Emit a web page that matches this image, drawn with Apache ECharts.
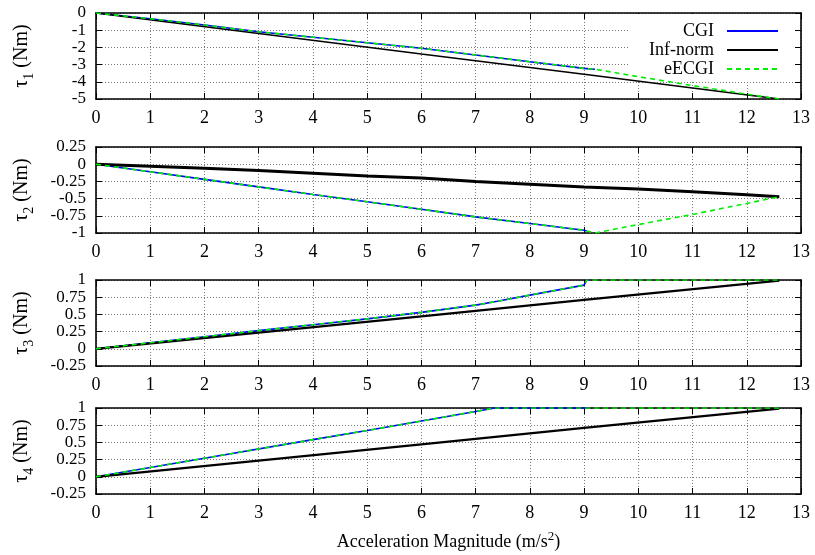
<!DOCTYPE html>
<html>
<head>
<meta charset="utf-8">
<script src="https://cdn.jsdelivr.net/npm/echarts@6/dist/echarts.min.js"></script>
<style>
  html, body { margin: 0; padding: 0; background: #fff; }
  #chart { width: 815px; height: 555px; }
</style>
</head>
<body>
<div id="chart"></div>
<script>
// ---- joint torques vs. acceleration magnitude ----

// τ1
const t1CgiX = [0, 1, 2, 3, 4, 5, 6, 7, 8, 9, 9.2];
const t1CgiY = [0, -0.33, -0.7, -1.09, -1.41, -1.73, -2.05, -2.44, -2.83, -3.22, -3.27];
const t1InfX = [0, 3, 6, 9, 12.6];
const t1InfY = [0, -1.19, -2.38, -3.56, -5];
const t1EcgX = [0, 1, 2, 3, 4, 5, 6, 7, 8, 9, 9.2, 10, 11, 12, 12.6];
const t1EcgY = [0, -0.33, -0.7, -1.09, -1.41, -1.73, -2.05, -2.44, -2.83, -3.22, -3.27, -3.7, -4.22, -4.72, -5];

// τ2
const t2CgiX = [0, 1, 2, 3, 4, 5, 6, 7, 8, 9, 9.05];
const t2CgiY = [0, -0.11, -0.22, -0.33, -0.44, -0.546, -0.655, -0.766, -0.863, -0.96, -0.97];
const t2InfX = [0, 1, 2, 3, 4, 5, 6, 7, 8, 9, 10, 11, 12, 12.6];
const t2InfY = [0, -0.03, -0.06, -0.09, -0.13, -0.17, -0.2, -0.25, -0.29, -0.33, -0.36, -0.4, -0.445, -0.473];
const t2EcgX = [0, 1, 2, 3, 4, 5, 6, 7, 8, 9, 9.05, 9.2, 10, 11, 12, 12.6];
const t2EcgY = [0, -0.11, -0.22, -0.33, -0.44, -0.546, -0.655, -0.766, -0.863, -0.96, -0.97, -1, -0.877, -0.73, -0.57, -0.473];

// τ3
const t3CgiX = [0, 1, 2, 3, 4, 5, 6, 7, 7.4, 8, 9, 9.05, 9.1];
const t3CgiY = [0, 0.087, 0.175, 0.264, 0.35, 0.435, 0.53, 0.635, 0.69, 0.78, 0.925, 1, 1];
const t3InfX = [0, 3, 6, 9, 12.6];
const t3InfY = [0, 0.235, 0.47, 0.71, 0.99];
const t3EcgX = [0, 1, 2, 3, 4, 5, 6, 7, 7.4, 8, 9, 9.05, 12.6];
const t3EcgY = [0, 0.087, 0.175, 0.264, 0.35, 0.435, 0.53, 0.635, 0.69, 0.78, 0.925, 1, 1];

// τ4
const t4CgiX = [0, 2, 4, 5, 6, 7, 7.35, 9.1];
const t4CgiY = [0, 0.27, 0.54, 0.674, 0.81, 0.95, 1, 1];
const t4InfX = [0, 3, 6, 9, 12.6];
const t4InfY = [0, 0.235, 0.47, 0.71, 0.99];
const t4EcgX = [0, 2, 4, 5, 6, 7, 7.35, 12.6];
const t4EcgY = [0, 0.27, 0.54, 0.674, 0.81, 0.95, 1, 1];

const seriesNames = ['CGI', 'Inf-norm', 'eECGI'];
const yNames = ['1', '2', '3', '4'];
const yMins = [-5, -1, -0.25, -0.25];
const yMaxs = [0, 0.25, 1, 1];
const yIntervals = [1, 0.25, 0.25, 0.25];
const xTitle = 'Acceleration Magnitude (m/s';

const panels = [
  [[t1CgiX, t1CgiY], [t1InfX, t1InfY], [t1EcgX, t1EcgY]],
  [[t2CgiX, t2CgiY], [t2InfX, t2InfY], [t2EcgX, t2EcgY]],
  [[t3CgiX, t3CgiY], [t3InfX, t3InfY], [t3EcgX, t3EcgY]],
  [[t4CgiX, t4CgiY], [t4InfX, t4InfY], [t4EcgX, t4EcgY]]
];

const FONT = 'Liberation Serif';
const gridTops = [13, 147, 280, 408];
const gridHeight = 86;
const infWidths = [1.6, 3, 2.2, 2.2];

const zip = (xs, ys) => xs.map((x, i) => [x, ys[i]]);

const grids = [], xAxes = [], yAxes = [], series = [];

const tickStyle = { show: true, inside: true, length: 6, lineStyle: { color: '#000', width: 1 } };
const lineStyle = { show: true, onZero: false, lineStyle: { color: '#000', width: 1.6 } };
const gridLine = { show: true, lineStyle: { color: '#7a7a7a', type: [1, 2], width: 1 } };
const xTickLabel = {
  color: '#000', fontFamily: FONT, fontSize: 18, margin: 10,
  showMinLabel: true, showMaxLabel: true, hideOverlap: false
};
const yTickLabel = {
  color: '#000', fontFamily: FONT, fontSize: 17, margin: 10,
  showMinLabel: true, showMaxLabel: true, hideOverlap: false, interval: 0
};

panels.forEach((p, i) => {
  grids.push({ left: 96, right: 14, top: gridTops[i], height: gridHeight });

  const xBase = { gridIndex: i, type: 'value', min: 0, max: 13, interval: 1 };
  xAxes.push(Object.assign({}, xBase, {
    position: 'bottom',
    axisLine: lineStyle, axisTick: tickStyle, splitLine: gridLine,
    axisLabel: xTickLabel,
    name: i === 3 ? '{t|' + xTitle + '}{p|2}{t|)}' : '',
    nameLocation: 'middle', nameGap: 36,
    nameTextStyle: {
      color: '#000', fontFamily: FONT,
      rich: {
        t: { fontFamily: FONT, fontSize: 18, color: '#000', lineHeight: 24, verticalAlign: 'middle' },
        p: { fontFamily: FONT, fontSize: 13, color: '#000', lineHeight: 12, verticalAlign: 'top' }
      }
    }
  }));
  xAxes.push(Object.assign({}, xBase, {
    position: 'top',
    axisLine: lineStyle, axisTick: tickStyle, splitLine: { show: false },
    axisLabel: { show: false }
  }));

  const yBase = { gridIndex: i, type: 'value', min: yMins[i], max: yMaxs[i], interval: yIntervals[i] };
  yAxes.push(Object.assign({}, yBase, {
    position: 'left',
    axisLine: lineStyle, axisTick: tickStyle, splitLine: gridLine,
    axisLabel: yTickLabel,
    name: '{t|τ}{s|' + yNames[i] + '}{t| (Nm)}',
    nameLocation: 'middle', nameRotate: 90, nameGap: 60,
    nameTextStyle: {
      color: '#000', fontFamily: FONT,
      rich: {
        t: { fontFamily: FONT, fontSize: 20, color: '#000', lineHeight: 28, verticalAlign: 'middle' },
        s: { fontFamily: FONT, fontSize: 14, color: '#000', lineHeight: 14, verticalAlign: 'bottom' }
      }
    }
  }));
  yAxes.push(Object.assign({}, yBase, {
    position: 'right',
    axisLine: lineStyle, axisTick: tickStyle, splitLine: { show: false },
    axisLabel: { show: false }
  }));

  const styles = [
    { color: '#0000ff', width: 1.6, type: 'solid' },
    { color: '#000000', width: infWidths[i], type: 'solid' },
    { color: '#00ee00', width: 1.6, type: [5, 4] }
  ];
  p.forEach((xy, k) => {
    series.push({
      name: seriesNames[k],
      type: 'line',
      xAxisIndex: 2 * i,
      yAxisIndex: 2 * i,
      data: zip(xy[0], xy[1]),
      symbol: 'none',
      animation: false,
      lineStyle: styles[k],
      itemStyle: { color: styles[k].color }
    });
  });
});

const chart = echarts.init(document.getElementById('chart'));
chart.setOption({
  backgroundColor: '#fff',
  animation: false,
  grid: grids,
  xAxis: xAxes,
  yAxis: yAxes,
  legend: {
    data: seriesNames,
    orient: 'vertical',
    align: 'right',
    right: 20,
    top: 14,
    z: 1,
    padding: [8, 16, 2, 20],
    backgroundColor: '#fff',
    itemWidth: 51,
    itemHeight: 14,
    itemGap: 1,
    itemStyle: { opacity: 0 },
    textStyle: { fontFamily: FONT, fontSize: 18, color: '#000', lineHeight: 18, padding: [0, 8, 0, 0] }
  },
  series: series
});
</script>
</body>
</html>
